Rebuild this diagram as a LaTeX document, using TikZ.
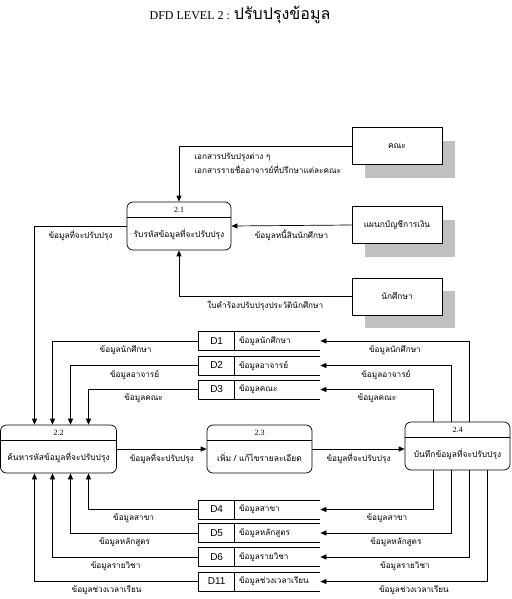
\documentclass[tikz,border=0pt]{standalone}
\usepackage{fontspec}
\setmainfont{Liberation Serif}
\newfontfamily\thai[Script=Thai]{Loma}
\newfontfamily\dsfont{Liberation Sans}
\usetikzlibrary{arrows.meta, positioning, calc, shadows}
\definecolor{colShadow}{RGB}{192, 192, 192}

\begin{document}
\begin{tikzpicture}[x=1pt, y=-1pt, line width=0.7pt,
    every node/.style={font=\thai\fontsize{8.4}{9}\selectfont},
    proc/.style={draw, rounded corners=6pt, minimum height=48pt, inner sep=0pt},
    procnum/.style={font=\rmfamily\fontsize{8}{9}\selectfont},
    ent/.style={draw, fill=white, minimum width=90pt, minimum height=37pt,
        drop shadow={shadow xshift=13pt, shadow yshift=-13pt, fill=colShadow, opacity=1}},
    store/.style={minimum width=121pt, minimum height=18pt, inner sep=0pt},
    storeid/.style={font=\dsfont\fontsize{10}{12}\selectfont},
    flow/.style={-{Triangle[length=6pt, width=5pt]}},
    lbl/.style={font=\thai\fontsize{8.2}{9}\selectfont, inner sep=1pt},
]
    \useasboundingbox (0, 0) rectangle (511, 599);

    % --- Title ---
    \node[font=\rmfamily\fontsize{12}{14}\selectfont] (title) at (240, 15)
        {DFD LEVEL 2 : {\thai\fontsize{16}{18}\selectfont ปรับปรุงข้อมูล}};

    % --- Processes ---
    \foreach \n/\x/\y/\w/\txt in {
        21/179/226/104/{รับรหัสข้อมูลที่จะปรับปรุง},
        22/58.5/449/116/{ค้นหารหัสข้อมูลที่จะปรับปรุง},
        23/259.5/449/105/{เพิ่ม / แก้ไขรายละเอียด},
        24/457.5/446/105/{บันทึกข้อมูลที่จะปรับปรุง}} {
        \node[proc, minimum width=\w pt] (p\n) at (\x, \y) {};
        \draw ($(p\n.north west)+(0, 16)$) -- ($(p\n.north east)+(0, 16)$);
        \node[procnum] (p\n num) at ($(p\n.north)+(0, 8)$) {2.\the\numexpr\n-20\relax};
        \node (p\n txt) at ($(p\n.center)+(0, 8)$) {\txt};
    }

    % --- External entities ---
    \node[ent] (eFac) at (397, 146) {คณะ};
    \node[ent] (eAcc) at (397, 225) {แผนกบัญชีการเงิน};
    \node[ent] (eStu) at (397, 296.5) {นักศึกษา};

    % --- Data stores (open on the right) ---
    \foreach \id/\y/\txt in {
        D1/341/ข้อมูลนักศึกษา, D2/365.5/ข้อมูลอาจารย์, D3/389.5/ข้อมูลคณะ,
        D4/509.5/ข้อมูลสาขา, D5/533/ข้อมูลหลักสูตร, D6/557/ข้อมูลรายวิชา,
        D11/581.5/ข้อมูลช่วงเวลาเรียน} {
        \node[store] (s\id) at (259.5, \y) {};
        \draw (s\id.north east) -- (s\id.north west) -- (s\id.south west) -- (s\id.south east);
        \draw ([xshift=36pt]s\id.north west) -- ([xshift=36pt]s\id.south west);
        \node[storeid] (s\id id) at ([xshift=18pt]s\id.west) {\id};
        \node[lbl, anchor=west] (s\id txt) at ([xshift=39pt]s\id.west) {\txt};
    }

    % --- Flows into 2.1 ---
    \draw[flow] (eFac.west) -| (p21.north);
    \node[lbl, anchor=north west, align=left, font=\thai\fontsize{8.2}{14}\selectfont] (lFac) at (193, 152)
        {เอกสารปรับปรุงต่าง ๆ\\เอกสารรายชื่ออาจารย์ที่ปรึกษาแต่ละคณะ};
    \draw[flow] (eAcc.west) -- (p21.east) node[lbl, midway, below=3pt] {ข้อมูลหนี้สินนักศึกษา};
    \draw[flow] (eStu.west) -| (p21.south) node[lbl, pos=0.25, below=3pt] {ใบคำร้องปรับปรุงประวัตินักศึกษา};

    % --- Main chain ---
    \draw[flow] (p21.west) -| ([xshift=-24pt]p22.north) node[lbl, pos=0.25, below=3pt] {ข้อมูลที่จะปรับปรุง};
    \draw[flow] (p22.east) -- (p23.west) node[lbl, midway, below=3pt] {ข้อมูลที่จะปรับปรุง};
    \draw[flow] (p23.east) -- (p24.west |- p23.east) node[lbl, midway, below=3pt] {ข้อมูลที่จะปรับปรุง};

    % --- Stores -> 2.2 ---
    \draw[flow] (sD1.west) -| ([xshift=-6pt]p22.north) node[lbl, pos=0.25, below=3pt] {ข้อมูลนักศึกษา};
    \draw[flow] (sD2.west) -| ([xshift=12pt]p22.north) node[lbl, pos=0.25, below=3pt] {ข้อมูลอาจารย์};
    \draw[flow] (sD3.west) -| ([xshift=30pt]p22.north) node[lbl, pos=0.25, below=3pt] {ข้อมูลคณะ};
    \draw[flow] (sD4.west) -| ([xshift=30pt]p22.south) node[lbl, pos=0.25, below=3pt, xshift=-10pt] {ข้อมูลสาขา};
    \draw[flow] (sD5.west) -| ([xshift=12pt]p22.south) node[lbl, pos=0.25, below=3pt, xshift=-10pt] {ข้อมูลหลักสูตร};
    \draw[flow] (sD6.west) -| ([xshift=-6pt]p22.south) node[lbl, pos=0.25, below=3pt, xshift=-10pt] {ข้อมูลรายวิชา};
    \draw[flow] (sD11.west) -| ([xshift=-24pt]p22.south) node[lbl, pos=0.25, below=3pt, xshift=-10pt] {ข้อมูลช่วงเวลาเรียน};

    % --- 2.4 -> stores ---
    \draw[flow] ([xshift=12pt]p24.north) |- (sD1.east) node[lbl, pos=0.75, below=3pt] {ข้อมูลนักศึกษา};
    \draw[flow] ([xshift=-6pt]p24.north) |- (sD2.east) node[lbl, pos=0.75, below=3pt] {ข้อมูลอาจารย์};
    \draw[flow] ([xshift=-24pt]p24.north) |- (sD3.east) node[lbl, pos=0.75, below=3pt] {ข้อมูลคณะ};
    \draw[flow] ([xshift=-24pt]p24.south) |- (sD4.east) node[lbl, pos=0.75, below=3pt, xshift=10pt] {ข้อมูลสาขา};
    \draw[flow] ([xshift=-6pt]p24.south) |- (sD5.east) node[lbl, pos=0.75, below=3pt, xshift=10pt] {ข้อมูลหลักสูตร};
    \draw[flow] ([xshift=12pt]p24.south) |- (sD6.east) node[lbl, pos=0.75, below=3pt, xshift=10pt] {ข้อมูลรายวิชา};
    \draw[flow] ([xshift=30pt]p24.south) |- (sD11.east) node[lbl, pos=0.75, below=3pt, xshift=10pt] {ข้อมูลช่วงเวลาเรียน};

\end{tikzpicture}
\end{document}
